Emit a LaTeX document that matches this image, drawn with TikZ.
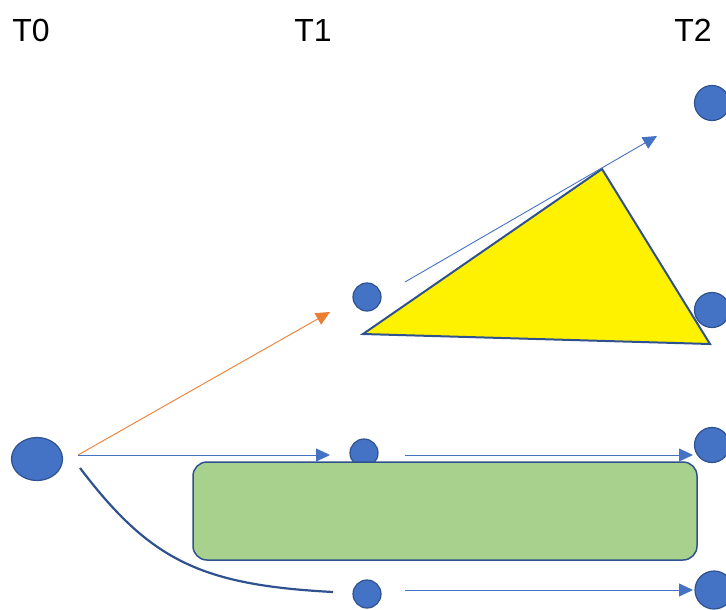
\documentclass[tikz,border=0pt]{standalone}
\usepackage{fontspec}
\setmainfont{Liberation Sans}
\usetikzlibrary{arrows.meta}
\definecolor{dotblue}{HTML}{4472C4}
\definecolor{edgeblue}{HTML}{2F528F}
\definecolor{arrorange}{HTML}{ED7D31}
\definecolor{boxgreen}{HTML}{A9D18E}
\tikzset{
  state/.style={ellipse, draw=edgeblue, fill=dotblue, line width=1.2pt, inner sep=0pt},
  timelabel/.style={font=\fontsize{32}{38}\selectfont},
  flow/.style={draw=dotblue, line width=0.9pt, -{Triangle[length=14pt,width=13pt]}},
}
\usetikzlibrary{shapes.geometric}

\begin{document}
\begin{tikzpicture}[x=1pt, y=-1pt]
  \useasboundingbox (0,0) rectangle (726,610);
  \node[timelabel] (l0) at (31,30) {T0};
  \node[timelabel] (l1) at (313,30) {T1};
  \node[timelabel] (l2) at (693,30) {T2};

  \filldraw[fill=yellow, draw=edgeblue, line width=2pt, line join=miter] (363,334) -- (602,169) -- (710,344) -- cycle;

  \node[state, minimum width=51pt, minimum height=43pt] (t0) at (37,459) {};
  \node[state, minimum size=28pt] (t1a) at (367,297) {};
  \node[state, minimum size=28pt] (t1b) at (364,453) {};
  \node[state, minimum size=28pt] (t1c) at (367,594) {};
  \node[state, minimum size=35pt] (t2a) at (712,103) {};
  \node[state, minimum size=35pt] (t2b) at (712,310) {};
  \node[state, minimum size=35pt] (t2c) at (712,445) {};
  \node[state, minimum size=38pt] (t2d) at (714,590) {};

  \fill[boxgreen, draw=edgeblue, line width=1.5pt, rounded corners=14pt] (193,462) rectangle (697,560);

  \coordinate (s0) at (78,455);
  \coordinate (s1) at (80,468);
  \coordinate (e1a) at (330,312);
  \coordinate (e1b) at (330,455);
  \coordinate (e1c) at (333,592);
  \coordinate (s1a) at (405,282);
  \coordinate (e2a) at (657,136);
  \coordinate (s1b) at (405,455);
  \coordinate (e2c) at (693,455);
  \coordinate (s1c) at (405,590);
  \coordinate (e2d) at (693,590);

  \draw[flow, draw=arrorange, -{Triangle[length=14pt,width=13pt, fill=arrorange]}] (s0) -- (e1a);
  \draw[flow] (s0) -- (e1b);
  \draw[flow] (s1a) -- (e2a);
  \draw[flow] (s1b) -- (e2c);
  \draw[flow] (s1c) -- (e2d);
  \draw[draw=edgeblue, line width=2.2pt] (s1) .. controls (150,560) and (200,585) .. (e1c);
\end{tikzpicture}
\end{document}
